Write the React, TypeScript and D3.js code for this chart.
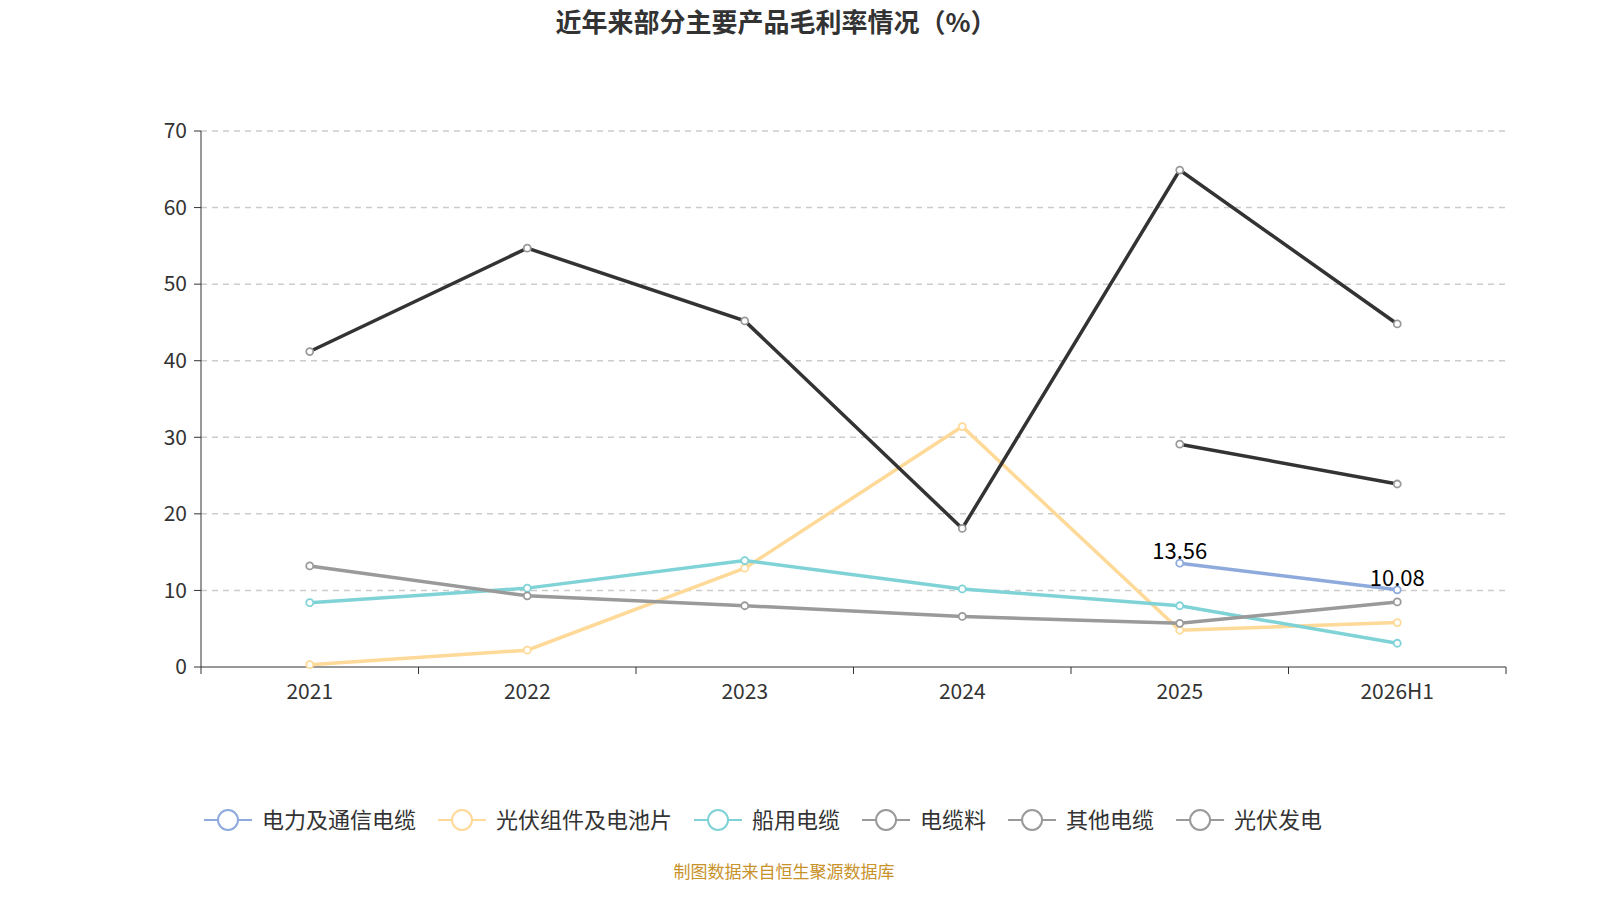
import React, { useEffect, useRef } from 'react';
import * as d3 from 'd3';

const categories = ['2021', '2022', '2023', '2024', '2025', '2026H1'];
const yTicks = [0, 10, 20, 30, 40, 50, 60, 70];
const power: (number | null)[] = [null, null, null, null, 13.56, 10.08];
const pv: (number | null)[] = [0.3, 2.2, 12.9, 31.4, 4.8, 5.8];
const marine: (number | null)[] = [8.4, 10.3, 13.9, 10.2, 8.0, 3.1];
const material: (number | null)[] = [13.2, 9.3, 8.0, 6.6, 5.7, 8.5];
const other: (number | null)[] = [41.2, 54.7, 45.2, 18.1, 64.9, 44.8];
const pvPower: (number | null)[] = [null, null, null, null, 29.1, 23.9];

const series = [
  { name: '电力及通信电缆', values: power, color: '#8eaadc', symbol: '#8eaadc', legend: '#8eaadc', label: true },
  { name: '光伏组件及电池片', values: pv, color: '#fed997', symbol: '#fed997', legend: '#fed997', label: false },
  { name: '船用电缆', values: marine, color: '#7fd3d6', symbol: '#7fd3d6', legend: '#7fd3d6', label: false },
  { name: '电缆料', values: material, color: '#9a9a9a', symbol: '#9a9a9a', legend: '#9a9a9a', label: false },
  { name: '其他电缆', values: other, color: '#333333', symbol: '#9a9a9a', legend: '#9a9a9a', label: false },
  { name: '光伏发电', values: pvPower, color: '#333333', symbol: '#9a9a9a', legend: '#9a9a9a', label: false },
];

const App: React.FC = () => {
  const ref = useRef<SVGSVGElement>(null);

  useEffect(() => {
    const svg = d3.select(ref.current).html('');
    const font = '"Noto Sans CJK SC", "Noto Sans", sans-serif';
    const left = 201, right = 1506, top = 131, bottom = 667;
    const x = d3.scaleBand().domain(categories).range([left, right]);
    const y = d3.scaleLinear().domain([0, 70]).range([bottom, top]);
    const cx = (c: string) => x(c)! + x.bandwidth() / 2;

    svg.append('text').attr('x', 776).attr('y', 32).attr('text-anchor', 'middle')
      .attr('font-family', font).attr('font-size', 26).attr('font-weight', 'bold').attr('fill', '#333')
      .text('近年来部分主要产品毛利率情况（%）');

    yTicks.forEach(t => {
      if (t > 0) svg.append('line').attr('x1', left).attr('x2', right).attr('y1', y(t)).attr('y2', y(t))
        .attr('stroke', '#ccc').attr('stroke-width', 1.5).attr('stroke-dasharray', '6,5');
      svg.append('line').attr('x1', left - 7).attr('x2', left).attr('y1', y(t)).attr('y2', y(t)).attr('stroke', '#333');
      svg.append('text').attr('x', left - 14).attr('y', y(t)).attr('dy', '0.35em').attr('text-anchor', 'end')
        .attr('font-family', font).attr('font-size', 21).attr('fill', '#333').text(t);
    });
    svg.append('line').attr('x1', left).attr('x2', left).attr('y1', top).attr('y2', bottom).attr('stroke', '#333');
    svg.append('line').attr('x1', left).attr('x2', right).attr('y1', bottom).attr('y2', bottom).attr('stroke', '#333');
    d3.range(categories.length + 1).forEach(i => {
      const xx = left + i * x.step();
      svg.append('line').attr('x1', xx).attr('x2', xx).attr('y1', bottom).attr('y2', bottom + 7).attr('stroke', '#333');
    });
    categories.forEach(c => svg.append('text').attr('x', cx(c)).attr('y', 699).attr('text-anchor', 'middle')
      .attr('font-family', font).attr('font-size', 21).attr('fill', '#333').text(c));

    series.forEach(s => {
      const pts = categories.map((c, i) => ({ c, v: s.values[i] }));
      const line = d3.line<{ c: string; v: number | null }>()
        .defined(d => d.v != null).x(d => cx(d.c)).y(d => y(d.v as number));
      svg.append('path').attr('d', line(pts)).attr('fill', 'none').attr('stroke', s.color).attr('stroke-width', 3.5);
      pts.filter(d => d.v != null).forEach(d => {
        svg.append('circle').attr('cx', cx(d.c)).attr('cy', y(d.v as number)).attr('r', 3.5)
          .attr('fill', '#fff').attr('stroke', s.symbol).attr('stroke-width', 1.8);
        if (s.label) svg.append('text').attr('x', cx(d.c)).attr('y', y(d.v as number) - 4).attr('text-anchor', 'middle')
          .attr('font-family', font).attr('font-size', 22).attr('fill', '#000').text((d.v as number).toFixed(2));
      });
    });

    const lg = svg.append('g').attr('font-family', font).attr('font-size', 22).attr('fill', '#333');
    let lx = 204;
    series.forEach(s => {
      lg.append('line').attr('x1', lx).attr('x2', lx + 48).attr('y1', 820).attr('y2', 820).attr('stroke', s.legend).attr('stroke-width', 2);
      lg.append('circle').attr('cx', lx + 24).attr('cy', 820).attr('r', 10).attr('fill', '#fff').attr('stroke', s.legend).attr('stroke-width', 2);
      const t = lg.append('text').attr('x', lx + 58).attr('y', 820).attr('dy', '0.35em').text(s.name);
      lx += 58 + (t.node() as SVGTextElement).getComputedTextLength() + 22;
    });

    svg.append('text').attr('x', 784).attr('y', 878).attr('text-anchor', 'middle').attr('font-family', font)
      .attr('font-size', 17).attr('fill', '#c8922a').text('制图数据来自恒生聚源数据库');
  }, []);

  return <svg ref={ref} width={1600} height={900} style={{ position: 'absolute', left: 0, top: 0 }} />;
};

export default App;
